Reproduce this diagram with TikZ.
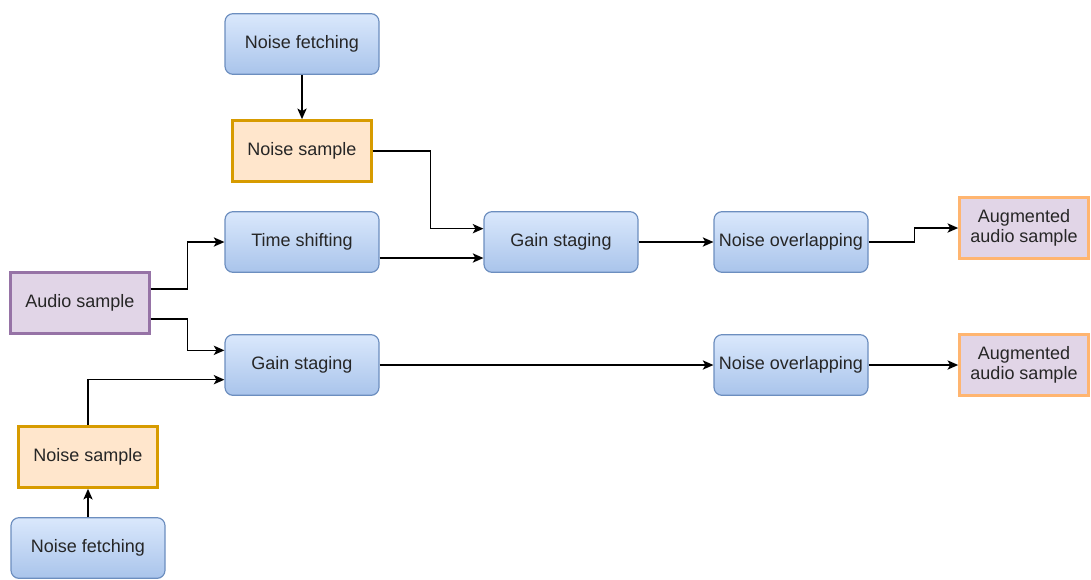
\documentclass[tikz,border=0pt]{standalone}
\usepackage{fontspec}
\setmainfont{Liberation Sans}
\usetikzlibrary{arrows.meta,calc}
\definecolor{blueTop}{HTML}{DAE8FC}
\definecolor{blueBot}{HTML}{A9C4EB}
\definecolor{blueLine}{HTML}{6C8EBF}
\definecolor{orangeFill}{HTML}{FFE6CC}
\definecolor{orangeLine}{HTML}{D79B00}
\definecolor{purpleFill}{HTML}{E1D5E7}
\definecolor{purpleLine}{HTML}{9673A6}
\definecolor{peachLine}{HTML}{FFB570}
\definecolor{txt}{HTML}{262626}
\tikzset{
  every node/.style={font=\fontsize{13.5pt}{15.5pt}\selectfont, text=txt, align=center, inner sep=0pt},
  procbox/.style={rectangle, rounded corners=6pt, draw=blueLine, line width=0.9pt,
    top color=blueTop, bottom color=blueBot, minimum width=115.5pt, minimum height=45.5pt},
  noisebox/.style={rectangle, draw=orangeLine, line width=1.8pt, fill=orangeFill,
    minimum width=104pt, minimum height=46pt},
  audiobox/.style={rectangle, draw=purpleLine, line width=1.8pt, fill=purpleFill,
    minimum width=104pt, minimum height=46pt},
  outbox/.style={rectangle, draw=peachLine, line width=1.8pt, fill=purpleFill,
    minimum width=97pt, minimum height=46pt},
  arr/.style={draw=black, line width=0.9pt, -{Stealth[length=8pt,width=7pt,inset=2pt]}},
}
\begin{document}
\begin{tikzpicture}[x=0.75pt,y=-0.75pt]
  \useasboundingbox (0,0) rectangle (1091,579);

  % upper branch
  \node[procbox]  (nf1)  at (302,44)  {Noise fetching};
  \node[noisebox] (ns1)  at (302,151) {Noise sample};
  \node[procbox]  (ts)   at (302,242) {Time shifting};
  \node[procbox]  (gst)  at (561,242) {Gain staging};
  \node[procbox]  (no1)  at (791,242) {Noise overlapping};
  \node[outbox]   (aug1) at (1024,228) {Augmented\\audio sample};

  % source
  \node[audiobox] (as)   at (80,303)  {Audio sample};

  % lower branch
  \node[procbox]  (gs2)  at (302,365) {Gain staging};
  \node[procbox]  (no2)  at (791,365) {Noise overlapping};
  \node[outbox]   (aug2) at (1024,365) {Augmented\\audio sample};
  \node[noisebox] (ns2)  at (88,457)  {Noise sample};
  \node[procbox]  (nf2)  at (88,548)  {Noise fetching};

  % connectors, upper branch
  \draw[arr] (nf1.south) -- (ns1.north);
  \draw[arr] (ns1.east) -- ++(58,0) |- ([yshift=10pt]gst.west);
  \draw[arr] ([yshift=-12pt]ts.east) -- ([yshift=-12pt]gst.west);
  \draw[arr] ([yshift=10.5pt]as.east) -- ++(37,0) |- (ts.west);
  \draw[arr] (gst.east) -- (no1.west);
  \draw[arr] (no1.east) -- ++(46,0) |- (aug1.west);

  % connectors, lower branch
  \draw[arr] ([yshift=-12pt]as.east) -- ++(37,0) |- ([yshift=11pt]gs2.west);
  \draw[arr] (nf2.north) -- (ns2.south);
  \draw[arr] (ns2.north) |- ([yshift=-11pt]gs2.west);
  \draw[arr] (gs2.east) -- (no2.west);
  \draw[arr] (no2.east) -- (aug2.west);
\end{tikzpicture}
\end{document}
